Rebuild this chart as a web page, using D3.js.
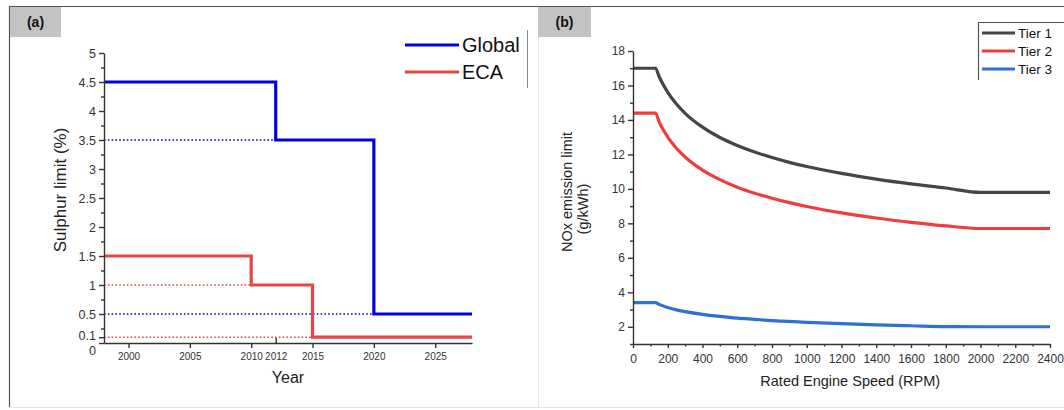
<!DOCTYPE html>
<html>
<head>
<meta charset="utf-8">
<script src="https://cdn.jsdelivr.net/npm/d3@7"></script>
<style>
  html, body { margin: 0; padding: 0; background: #fff; }
  svg { display: block; font-family: Arial, "Liberation Sans", sans-serif; }
</style>
</head>
<body>
<svg id="chart" width="1064" height="410"></svg>
<script>
// ---- Panel (a): sulphur limits ----
const globalYears = [1998, 2012, 2020, 2028];
const globalLimit = [4.5, 3.5, 0.5, 0.5];
const ecaYears = [1998, 2010, 2015, 2028];
const ecaLimit = [1.5, 1.0, 0.1, 0.1];
const yearTicks = [2000, 2005, 2010, 2012, 2015, 2020, 2025];
const sulphurTicks = [0, 0.1, 0.5, 1, 1.5, 2, 2.5, 3, 3.5, 4, 4.5, 5];

// ---- Panel (b): NOx limits vs rated engine speed ----
const rpm   = [0, 130, 150, 200, 250, 300, 400, 500, 600, 700, 800, 900, 1000, 1200, 1400, 1600, 1800, 2000, 2400];
const tier1 = [17.0, 17.0, 16.52, 15.6, 14.92, 14.38, 13.58, 12.98, 12.52, 12.14, 11.82, 11.54, 11.3, 10.9, 10.57, 10.29, 10.05, 9.8, 9.8];
const tier2 = [14.4, 14.4, 13.9, 13.01, 12.36, 11.85, 11.09, 10.54, 10.1, 9.75, 9.46, 9.2, 8.98, 8.61, 8.31, 8.06, 7.85, 7.7, 7.7];
const tier3 = [3.4, 3.4, 3.3, 3.12, 2.98, 2.88, 2.72, 2.6, 2.5, 2.43, 2.36, 2.31, 2.26, 2.18, 2.11, 2.06, 2.01, 2.0, 2.0];
const tierNames = ["Tier 1", "Tier 2", "Tier 3"];
const rpmTicks = d3.range(0, 2401, 200);
const noxTicks = d3.range(2, 19, 2);

const svg = d3.select("#chart");
const axisColor = "#333";
const fontFamily = "Arial, 'Liberation Sans', sans-serif";

// ---- frames and panel tags ----
svg.append("line").attr("x1", 9).attr("x2", 1064).attr("y1", 6.5).attr("y2", 6.5)
  .attr("stroke", "#555").attr("stroke-width", 1.2);
svg.append("line").attr("x1", 9.5).attr("x2", 9.5).attr("y1", 6).attr("y2", 408)
  .attr("stroke", "#555").attr("stroke-width", 1.2);
svg.append("line").attr("x1", 9).attr("x2", 1064).attr("y1", 407.5).attr("y2", 407.5)
  .attr("stroke", "#e2e2e2").attr("stroke-width", 1);
svg.append("line").attr("x1", 538.5).attr("x2", 538.5).attr("y1", 37).attr("y2", 408)
  .attr("stroke", "#e6e6e6").attr("stroke-width", 1);

[{x: 10, w: 51, t: "(a)"}, {x: 538, w: 53, t: "(b)"}].forEach(tag => {
  svg.append("rect").attr("x", tag.x).attr("y", 7).attr("width", tag.w).attr("height", 30)
    .attr("fill", "#c3c3c3");
  svg.append("text").attr("x", tag.x + tag.w / 2).attr("y", 27).attr("text-anchor", "middle")
    .attr("font-size", 14).attr("font-weight", "bold").attr("fill", "#111").text(tag.t);
});

// ================= Panel (a) =================
const xa = d3.scaleLinear().domain([1998, 2028]).range([104, 472]);
const ya = d3.scaleLinear().domain([0, 5]).range([343, 53]);
const blue = "#0000e0", red = "#e64545";

// dotted guides at each lowered limit
function guides(years, vals, color) {
  for (let i = 1; i < years.length - 1; i++) {
    svg.append("line")
      .attr("x1", xa(1998)).attr("x2", xa(years[i]))
      .attr("y1", ya(vals[i])).attr("y2", ya(vals[i]))
      .attr("stroke", color).attr("stroke-width", 1.6).attr("stroke-dasharray", "1.6,2.2");
  }
}
guides(globalYears, globalLimit, blue);
guides(ecaYears, ecaLimit, red);

const stepLine = d3.line().x(d => xa(d[0])).y(d => ya(d[1])).curve(d3.curveStepAfter);
svg.append("path").datum(d3.zip(ecaYears, ecaLimit)).attr("d", stepLine)
  .attr("fill", "none").attr("stroke", red).attr("stroke-width", 3.2);
svg.append("path").datum(d3.zip(globalYears, globalLimit)).attr("d", stepLine)
  .attr("fill", "none").attr("stroke", blue).attr("stroke-width", 3.2);

// y axis (a)
const yAxisA = svg.append("g").attr("transform", `translate(${xa(1998)},0)`)
  .call(d3.axisLeft(ya).tickValues(sulphurTicks).tickSize(5).tickSizeOuter(0).tickPadding(3)
    .tickFormat(d => String(d)));
yAxisA.selectAll("text").attr("font-size", 12.5).attr("fill", "#333").attr("font-family", fontFamily);
yAxisA.selectAll("text").filter(d => d === 0).attr("dy", "0.95em");
yAxisA.selectAll("text").filter(d => d === 0.1).attr("dy", "0.15em");
svg.append("g").attr("transform", `translate(${xa(1998)},0)`)
  .call(d3.axisLeft(ya).tickValues(d3.range(0.25, 5, 0.5)).tickSize(3).tickFormat(""))
  .call(g => g.select(".domain").remove());

// x axis (a)
const xAxisA = svg.append("g").attr("transform", `translate(0,${ya(0)})`)
  .call(d3.axisBottom(xa).tickValues(yearTicks).tickSize(5).tickSizeOuter(0).tickPadding(5)
    .tickFormat(d3.format("d")));
xAxisA.selectAll("text").attr("font-size", 10).attr("fill", "#333").attr("font-family", fontFamily);
xAxisA.selectAll(".tick line").filter(d => d === 2012).attr("y2", -5);

svg.append("text").attr("x", xa(2013)).attr("y", 383).attr("text-anchor", "middle")
  .attr("font-size", 16).attr("fill", "#222").text("Year");
svg.append("text").attr("transform", `translate(66,190) rotate(-90)`)
  .attr("text-anchor", "middle").attr("font-size", 17).attr("fill", "#222").text("Sulphur limit (%)");

// legend (a)
[{name: "Global", color: blue, y: 45}, {name: "ECA", color: red, y: 72}].forEach(l => {
  svg.append("line").attr("x1", 405).attr("x2", 459).attr("y1", l.y).attr("y2", l.y)
    .attr("stroke", l.color).attr("stroke-width", 3.2);
  svg.append("text").attr("x", 462).attr("y", l.y + 7).attr("font-size", 20)
    .attr("fill", "#111").text(l.name);
});
svg.append("line").attr("x1", 527.5).attr("x2", 527.5).attr("y1", 30).attr("y2", 88)
  .attr("stroke", "#888").attr("stroke-width", 1);

// ================= Panel (b) =================
const xb = d3.scaleLinear().domain([0, 2400]).range([633, 1050]);
const yb = d3.scaleLinear().domain([1, 18]).range([344, 51]);
const tierColors = ["#454545", "#f03c3f", "#2f6fd6"];
const tiers = [tier1, tier2, tier3];
const curve = d3.line().x(d => xb(d[0])).y(d => yb(d[1])).curve(d3.curveMonotoneX);

tiers.forEach((vals, i) => {
  svg.append("path").datum(d3.zip(rpm, vals)).attr("d", curve)
    .attr("fill", "none").attr("stroke", tierColors[i]).attr("stroke-width", 3.2)
    .attr("stroke-linejoin", "round");
});

const yAxisB = svg.append("g").attr("transform", `translate(${xb(0)},0)`)
  .call(d3.axisLeft(yb).tickValues(noxTicks).tickSize(5).tickSizeOuter(0).tickPadding(3));
svg.append("g").attr("transform", `translate(${xb(0)},0)`)
  .call(d3.axisLeft(yb).tickValues(d3.range(1, 18, 2)).tickSize(3).tickFormat(""))
  .call(g => g.select(".domain").remove());
const xAxisB = svg.append("g").attr("transform", `translate(0,${yb(1)})`)
  .call(d3.axisBottom(xb).tickValues(rpmTicks).tickSize(4).tickSizeOuter(0).tickPadding(6)
    .tickFormat(d3.format("d")));
svg.append("g").attr("transform", `translate(0,${yb(1)})`)
  .call(d3.axisBottom(xb).tickValues(d3.range(100, 2400, 200)).tickSize(2.5).tickFormat(""))
  .call(g => g.select(".domain").remove());
[yAxisB, xAxisB].forEach(g => {
  g.selectAll("text").attr("font-size", 12).attr("fill", "#333").attr("font-family", fontFamily);
});

// axis strokes
svg.selectAll("g.tick line, g path.domain").attr("stroke", axisColor).attr("stroke-width", 1.4);

svg.append("text").attr("x", xb(1250)).attr("y", 386).attr("text-anchor", "middle")
  .attr("font-size", 14.5).attr("fill", "#222").text("Rated Engine Speed (RPM)");
svg.append("text").attr("transform", `translate(572,192) rotate(-90)`)
  .attr("text-anchor", "middle").attr("font-size", 14.5).attr("fill", "#222").text("NOx emission limit");
svg.append("text").attr("transform", `translate(588,209) rotate(-90)`)
  .attr("text-anchor", "middle").attr("font-size", 14.5).attr("fill", "#222").text("(g/kWh)");

// legend (b)
svg.append("path").attr("d", "M978.5,80 V22.5 H1064").attr("fill", "none")
  .attr("stroke", "#555").attr("stroke-width", 1.2);
tierNames.forEach((name, i) => {
  const y = 33 + i * 18;
  svg.append("line").attr("x1", 982).attr("x2", 1015).attr("y1", y).attr("y2", y)
    .attr("stroke", tierColors[i]).attr("stroke-width", 3.2);
  svg.append("text").attr("x", 1018).attr("y", y + 5).attr("font-size", 13.5)
    .attr("fill", "#111").text(name);
});
</script>
</body>
</html>
